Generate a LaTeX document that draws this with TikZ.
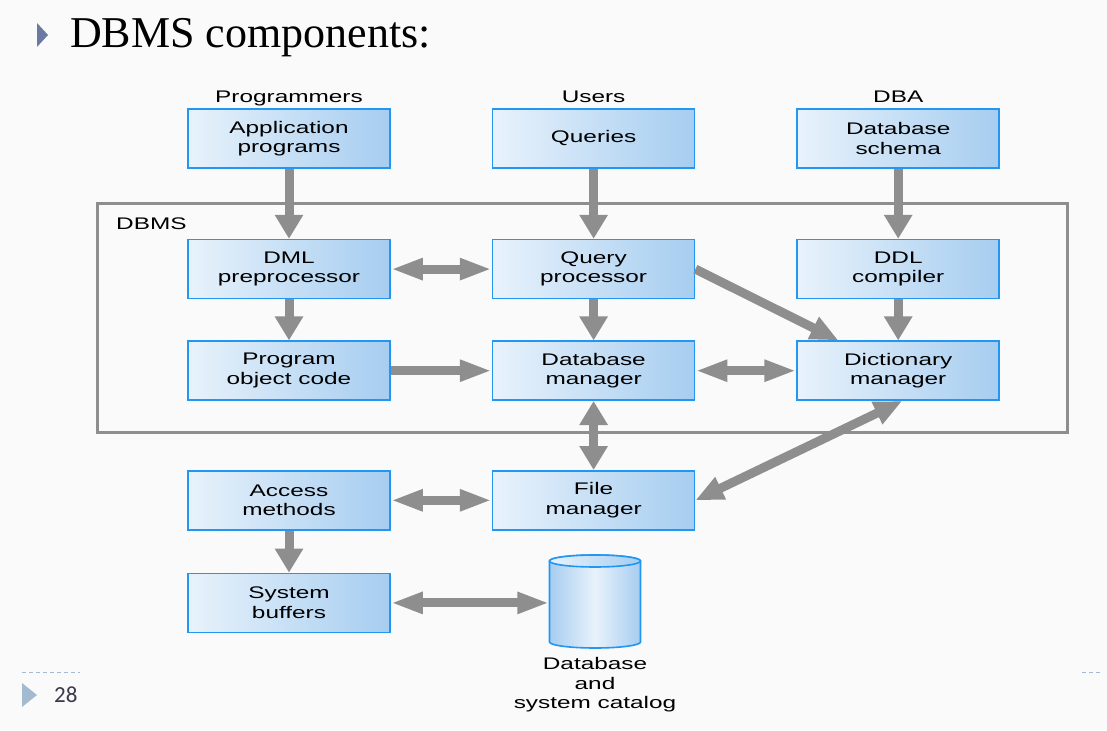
\documentclass[tikz,border=0pt]{standalone}
\usepackage{fontspec}
\setmainfont{Liberation Serif}
\newfontfamily\boxfont[FakeStretch=1.45]{Liberation Sans}
\newfontfamily\pagefont{Carlito}
\usetikzlibrary{arrows.meta,positioning,calc}
\definecolor{slidebg}{HTML}{FAFAFA}
\definecolor{edgeblue}{HTML}{2196F3}
\definecolor{fillpale}{HTML}{E8F2FB}
\definecolor{fillblue}{HTML}{A6CDF0}
\definecolor{flowgray}{HTML}{8E8E8E}
\definecolor{bullet}{HTML}{6B7AA1}
\definecolor{footblue}{HTML}{A3BAD0}
\definecolor{pagegray}{HTML}{3A3A48}

\begin{document}
\begin{tikzpicture}[x=1pt, y=-1pt,
  comp/.style={draw=edgeblue, line width=1.6pt, left color=fillpale, right color=fillblue,
               minimum width=202pt, minimum height=59pt, inner sep=0pt, align=center,
               font=\boxfont\fontsize{16.8}{19.5}\selectfont},
  role/.style={inner sep=0pt, text height=12pt, text depth=3.5pt,
               font=\boxfont\fontsize{16.8}{19.5}\selectfont},
  varr/.style={-{Triangle[length=24pt,width=27pt]}, flowgray, line width=9pt},
  harr/.style={-{Triangle[length=32pt,width=20pt]}, flowgray, line width=9pt},
  hboth/.style={{Triangle[length=32pt,width=20pt]}-{Triangle[length=32pt,width=20pt]}, flowgray, line width=9pt},
  vboth/.style={{Triangle[length=24pt,width=27pt]}-{Triangle[length=24pt,width=27pt]}, flowgray, line width=9pt},
  darr/.style={-{Triangle[length=28pt,width=23pt]}, flowgray, line width=9pt},
  dboth/.style={{Triangle[length=28pt,width=23pt]}-{Triangle[length=28pt,width=23pt]}, flowgray, line width=9pt}]
  \fill[slidebg, use as bounding box] (0,0) rectangle (1107,730);

  % slide title and footer
  \fill[bullet] (37,23) -- (48,35) -- (37,47) -- cycle;
  \node[anchor=base west, inner sep=0pt, font=\fontsize{44}{50}\selectfont] (title) at (70,48) {DBMS components:};
  \draw[footblue, line width=1.2pt, dash pattern=on 4pt off 3pt] (22,672.5) -- (80,672.5);
  \draw[footblue, line width=1.2pt, dash pattern=on 4pt off 3pt] (1082,672.5) -- (1102,672.5);
  \fill[footblue] (22,683) -- (37,695) -- (22,707) -- cycle;
  \node[anchor=base west, inner sep=0pt, text=pagegray, font=\pagefont\fontsize{23}{26}\selectfont] (pageno) at (54,702) {28};

  % DBMS frame
  \draw[flowgray, line width=3pt] (97,203) rectangle (1067,432);
  \node[role, anchor=west] (dbms) at (116,225) {DBMS};

  % components
  \node[comp] (app) at (289,138.5) {Application\\programs};
  \node[comp, right=101pt of app] (qry) {Queries};
  \node[comp, right=101pt of qry] (schema) {Database\\schema};
  \node[comp, below=70pt of app] (dml) {DML\\preprocessor};
  \node[comp, below=70pt of qry] (qp) {Query\\processor};
  \node[comp, below=70pt of schema] (ddl) {DDL\\compiler};
  \node[comp, below=41pt of dml] (obj) {Program\\object code};
  \node[comp, below=41pt of qp] (dbm) {Database\\manager};
  \node[comp, below=41pt of ddl] (dict) {Dictionary\\manager};
  \node[comp, below=69pt of obj] (acc) {Access\\methods};
  \node[comp, below=69pt of dbm] (fm) {File\\manager};
  \node[comp, below=42pt of acc] (buf) {System\\buffers};

  \node[role, above=2pt of app] (prog) {Programmers};
  \node[role, above=2pt of qry] (users) {Users};
  \node[role, above=2pt of schema] (dba) {DBA};

  % database and system catalog
  \node[inner sep=0pt, minimum width=91pt, minimum height=93pt] (catalog) at (595,601.5) {};
  \shade[left color=fillblue, right color=fillblue, middle color=fillpale, draw=edgeblue, line width=1.6pt]
    (549.5,561) -- (549.5,642) arc[start angle=180, end angle=360, x radius=45.5pt, y radius=6pt]
    -- (640.5,561) arc[start angle=0, end angle=180, x radius=45.5pt, y radius=6pt] -- cycle;
  \shade[left color=fillpale, right color=fillblue, draw=edgeblue, line width=1.6pt]
    (595,561) ellipse[x radius=45.5pt, y radius=6pt];
  \node[below=9pt of catalog, inner sep=0pt, align=center, font=\boxfont\fontsize{16.8}{19.5}\selectfont] (cattext)
    {Database\\and\\system catalog};

  % connectors
  \draw[varr] (app) -- (dml);
  \draw[varr] (qry) -- (qp);
  \draw[varr] (schema) -- (ddl);
  \draw[hboth] (dml) -- (qp);
  \draw[varr] (dml) -- (obj);
  \draw[varr] (qp) -- (dbm);
  \draw[varr] (ddl) -- (dict);
  \draw[darr] (qp.east) -- ([xshift=42pt]dict.north west);
  \draw[harr] (obj) -- (dbm);
  \draw[hboth] (dbm) -- (dict);
  \draw[vboth] (dbm) -- (fm);
  \draw[dboth] ([xshift=4pt]dict.south) -- (fm.east);
  \draw[hboth] (acc) -- (fm);
  \draw[varr] (acc) -- (buf);
  \draw[hboth] (buf.east) -- (buf.east -| catalog.west);
\end{tikzpicture}
\end{document}
